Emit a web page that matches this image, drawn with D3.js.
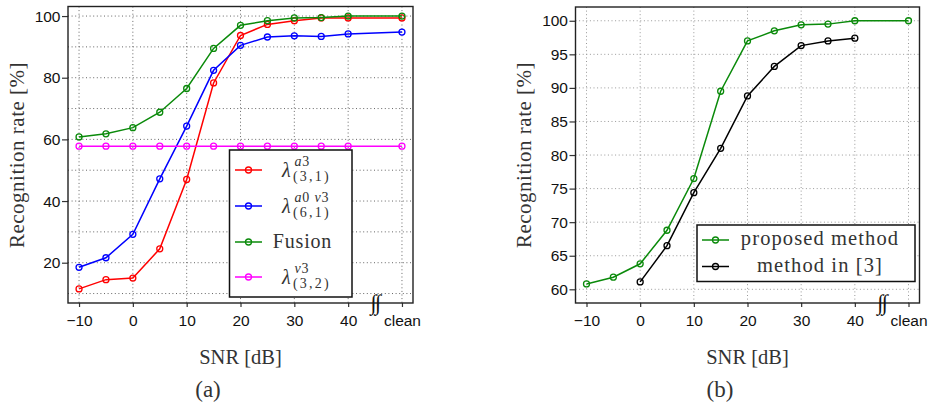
<!DOCTYPE html>
<html>
<head>
<meta charset="utf-8">
<script src="https://cdn.jsdelivr.net/npm/d3@7"></script>
<style>
  html, body { margin: 0; padding: 0; background: #fff; }
  svg { display: block; }
</style>
</head>
<body>
<svg id="fig" width="933" height="407"></svg>
<script>
// SNR positions in dB; the "clean" condition is placed at 50 on the axis
const snr = [-10, -5, 0, 5, 10, 15, 20, 25, 30, 35, 40, 50];
const snrRef = [0, 5, 10, 15, 20, 25, 30, 35, 40];
const xTickValues = [-10, 0, 10, 20, 30, 40, 50];
const xTickLabels = ["\u221210", "0", "10", "20", "30", "40", "clean"];

// recognition rates [%]
const rateA3     = [11.5, 14.5, 15.0, 24.5, 47.0, 78.3, 93.7, 97.3, 98.5, 99.4, 99.4, 99.4];
const rateA0V3   = [18.5, 21.6, 29.2, 47.2, 64.3, 82.4, 90.5, 93.2, 93.6, 93.4, 94.2, 94.8];
const rateFusion = [60.8, 61.8, 63.8, 68.8, 76.5, 89.5, 97.0, 98.5, 99.4, 99.5, 100.0, 100.0];
const rateV3     = [57.8, 57.8, 57.8, 57.8, 57.8, 57.8, 57.8, 57.8, 57.8, 57.8, 57.8, 57.8];
const rateRef    = [61.1, 66.5, 74.4, 81.0, 88.8, 93.2, 96.3, 97.0, 97.4];

// axis ticks and grid levels
const yTicksA = [20, 40, 60, 80, 100];
const yGridA  = [10, 20, 30, 40, 50, 60, 70, 80, 90, 100];
const yTicksB = [60, 65, 70, 75, 80, 85, 90, 95, 100];

const SERIF = '"Liberation Serif", "Times New Roman", serif';
const SANS = '"Liberation Sans", Arial, sans-serif';
const TEXT_GREY = "#333";

const svg = d3.select("#fig");

function serifText(parent, size) {
  return parent.append("text")
    .attr("font-family", SERIF).attr("font-size", size).attr("fill", TEXT_GREY);
}

function panel(opt) {
  const g = svg.append("g");
  const x = d3.scaleLinear().domain([-12.05, 52.05]).range([opt.left, opt.right]);
  const y = d3.scaleLinear().domain(opt.yDomain).range([opt.bottom, opt.top]);

  // dotted grid
  const grid = g.append("g").attr("stroke", opt.gridColor).attr("stroke-width", 1)
    .attr("stroke-dasharray", "1,2.6").attr("fill", "none");
  grid.selectAll("line.v").data(xTickValues).join("line").attr("class", "v")
    .attr("x1", d => x(d)).attr("x2", d => x(d)).attr("y1", opt.top).attr("y2", opt.bottom);
  grid.selectAll("line.h").data(opt.yGrid).join("line").attr("class", "h")
    .attr("x1", opt.left).attr("x2", opt.right).attr("y1", d => y(d)).attr("y2", d => y(d));

  // axes
  const ax = d3.axisBottom(x).tickValues(xTickValues)
    .tickFormat((d, i) => xTickLabels[i]).tickSize(4).tickPadding(8);
  const ay = d3.axisLeft(y).tickValues(opt.yTicks).tickSize(6).tickPadding(1.5);
  const gx = g.append("g").attr("transform", `translate(0,${opt.bottom})`).call(ax);
  const gy = g.append("g").attr("transform", `translate(${opt.left},0)`).call(ay);
  [gx, gy].forEach(a => {
    a.attr("font-family", SANS).attr("font-size", 15.5);
    a.select(".domain").remove();
    a.selectAll(".tick line").attr("stroke", "#333").attr("stroke-width", 1.2);
    a.selectAll(".tick text").attr("fill", "#111");
  });

  // series
  const line = d3.line().x(d => x(d[0])).y(d => y(d[1]));
  opt.series.forEach(s => {
    const pts = s.xs.map((v, i) => [v, s.ys[i]]);
    g.append("path").datum(pts).attr("d", line).attr("fill", "none")
      .attr("stroke", s.color).attr("stroke-width", 1.5);
    g.append("g").selectAll("circle").data(pts).join("circle")
      .attr("cx", d => x(d[0])).attr("cy", d => y(d[1])).attr("r", 3)
      .attr("fill", "none").attr("stroke", s.color).attr("stroke-width", 1.3);
  });

  // frame
  g.append("rect").attr("x", opt.left).attr("y", opt.top)
    .attr("width", opt.right - opt.left).attr("height", opt.bottom - opt.top)
    .attr("fill", "none").attr("stroke", "#222").attr("stroke-width", 1.4);

  // axis break marker between 40 and clean
  serifText(g, 22).attr("x", x(45)).attr("y", opt.bottom + 7)
    .attr("text-anchor", "middle").attr("fill", "#111")
    .attr("letter-spacing", "-1.5").text("\u222B\u222B");

  // axis titles and caption
  const cx = (x(-10) + x(50)) / 2;
  serifText(g, 21).attr("text-anchor", "middle")
    .attr("transform", `translate(${opt.ylabelX},155) rotate(-90)`)
    .attr("letter-spacing", "0.5").text("Recognition rate [%]");
  serifText(g, 20.5).attr("text-anchor", "middle")
    .attr("x", cx).attr("y", 364).text("SNR [dB]");
  serifText(g, 23).attr("text-anchor", "middle")
    .attr("x", opt.captionX).attr("y", 397).text(opt.caption);

  return { g, x, y };
}

panel({
  left: 68, right: 413, top: 6.5, bottom: 303,
  yDomain: [6.93, 103.1], yTicks: yTicksA, yGrid: yGridA, gridColor: "#666",
  ylabelX: 24, caption: "(a)", captionX: 208,
  series: [
    { xs: snr, ys: rateA3, color: "#ff0000" },
    { xs: snr, ys: rateA0V3, color: "#0000ff" },
    { xs: snr, ys: rateFusion, color: "#0a8a0a" },
    { xs: snr, ys: rateV3, color: "#ff00ff" }
  ]
});

panel({
  left: 575.5, right: 919.5, top: 7, bottom: 303,
  yDomain: [57.96, 102.05], yTicks: yTicksB, yGrid: yTicksB, gridColor: "#999",
  ylabelX: 531, caption: "(b)", captionX: 720,
  series: [
    { xs: snr, ys: rateFusion, color: "#0a8a0a" },
    { xs: snrRef, ys: rateRef, color: "#000000" }
  ]
});

// ---- legends ----
function legendSample(g, x0, x1, y, color) {
  g.append("line").attr("x1", x0).attr("x2", x1).attr("y1", y).attr("y2", y)
    .attr("stroke", color).attr("stroke-width", 1.5);
  g.append("circle").attr("cx", (x0 + x1) / 2).attr("cy", y).attr("r", 3)
    .attr("fill", "none").attr("stroke", color).attr("stroke-width", 1.3);
}

// lambda with a stacked superscript and subscript, as one text element
function lambdaLabel(g, x, y, sup, sub) {
  const t = serifText(g, 20).attr("x", x).attr("y", y + 6.5);
  t.append("tspan").attr("font-style", "italic").text("\u03BB");
  let first = true;
  sup.forEach(p => {
    const s = t.append("tspan").attr("font-size", 14)
      .attr("font-style", p[1] ? "italic" : "normal").attr("letter-spacing", "0.8").text(p[0]);
    if (first) { s.attr("x", x + 12.5).attr("y", y - 4.5); first = false; }
  });
  t.append("tspan").attr("x", x + 11).attr("y", y + 10.5)
    .attr("font-size", 14).attr("letter-spacing", "2.2").text(sub);
}

const legA = svg.append("g");
legA.append("rect").attr("x", 229.5).attr("y", 150).attr("width", 122.5).attr("height", 147)
  .attr("fill", "#fff").attr("stroke", "#111").attr("stroke-width", 1.5);
const legAy = [170, 206, 242, 277];
const legAcolors = ["#ff0000", "#0000ff", "#0a8a0a", "#ff00ff"];
legAy.forEach((yy, i) => legendSample(legA, 235, 262, yy, legAcolors[i]));
lambdaLabel(legA, 282, legAy[0], [["a", true], ["3", false]], "(3,1)");
lambdaLabel(legA, 282, legAy[1], [["a", true], ["0 ", false], ["v", true], ["3", false]], "(6,1)");
serifText(legA, 20).attr("x", 302.5).attr("y", legAy[2] + 6)
  .attr("text-anchor", "middle").attr("letter-spacing", "0.8").text("Fusion");
lambdaLabel(legA, 282, legAy[3], [["v", true], ["3", false]], "(3,2)");

const legB = svg.append("g");
legB.append("rect").attr("x", 697).attr("y", 225).attr("width", 218).attr("height", 56.5)
  .attr("fill", "#fff").attr("stroke", "#111").attr("stroke-width", 1.5);
legendSample(legB, 702, 729, 240, "#0a8a0a");
legendSample(legB, 702, 729, 266.5, "#000000");
serifText(legB, 20.5).attr("x", 820).attr("y", 245)
  .attr("text-anchor", "middle").attr("letter-spacing", "1.1").text("proposed method");
serifText(legB, 20.5).attr("x", 820).attr("y", 272)
  .attr("text-anchor", "middle").attr("letter-spacing", "1.1").text("method in [3]");
</script>
</body>
</html>
